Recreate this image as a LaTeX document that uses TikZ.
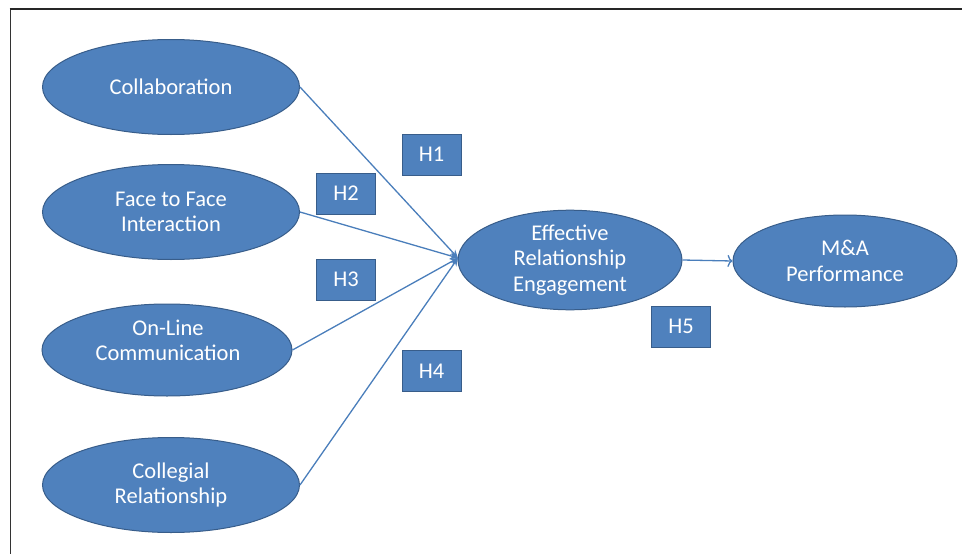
\documentclass[tikz,border=0pt]{standalone}
\usepackage{fontspec}
\setmainfont{Carlito}
\usetikzlibrary{shapes.geometric,arrows.meta}
\definecolor{bfill}{RGB}{79,129,189}
\definecolor{bdraw}{RGB}{56,93,138}
\definecolor{bline}{RGB}{74,126,187}
\tikzset{
  oval/.style={ellipse, fill=bfill, draw=bdraw, line width=1pt, inner sep=0pt,
    text=white, align=center, font=\fontsize{22.5}{25.5}\selectfont},
  ovtext/.style={text=white, align=center, inner sep=0pt, font=\fontsize{22.5}{25}\selectfont},
  hbox/.style={rectangle, fill=bfill, draw=bdraw, line width=1pt, inner sep=0pt,
    minimum width=59pt, minimum height=41pt, text=white, font=\fontsize{22.5}{25}\selectfont},
  conn/.style={draw=bline, line width=1.3pt, -{Stealth[length=8pt,width=7pt]}},
  conn2/.style={draw=bline, line width=1.3pt, -{To[length=5pt,width=12pt]}}
}
\begin{document}
\begin{tikzpicture}[x=1pt,y=-1pt]
\useasboundingbox (0,0) rectangle (962,554);
\draw[draw=black!80, line width=1pt] (10,554) -- (10,9);
\draw[draw=black!85, line width=2pt] (9.5,9) -- (962,9);

\node[oval, minimum width=257pt, minimum height=95pt] (col) at (171,87) {Collaboration};
\node[oval, minimum width=257pt, minimum height=95pt] (ftf) at (171,212) {Face to Face\\Interaction};
\node[oval, minimum width=250pt, minimum height=92pt] (onl) at (167,350) {};
\node[ovtext] (onlt) at (168,340) {On-Line\\Communication};
\node[oval, minimum width=257pt, minimum height=95pt] (cgr) at (171,485) {Collegial\\Relationship};
\node[oval, minimum width=224pt, minimum height=95pt] (ere) at (570,260) {Effective\\Relationship\\Engagement};
\node[oval, minimum width=224pt, minimum height=92pt] (mna) at (845,261) {M\&A\\Performance};

\node[hbox] (h1) at (431.5,154.5) {H1};
\node[hbox] (h2) at (346,193.5) {H2};
\node[hbox] (h3) at (346,279.5) {H3};
\node[hbox] (h4) at (431.5,371) {H4};
\node[hbox] (h5) at (681,326.5) {H5};

\coordinate (hub) at (458,258);
\draw[conn] (col.east) -- (hub);
\draw[conn] (ftf.east) -- (hub);
\draw[conn] (onl.east) -- (hub);
\draw[conn] (cgr.east) -- (hub);
\draw[conn2] (ere.east) -- (mna.west);
\end{tikzpicture}
\end{document}
